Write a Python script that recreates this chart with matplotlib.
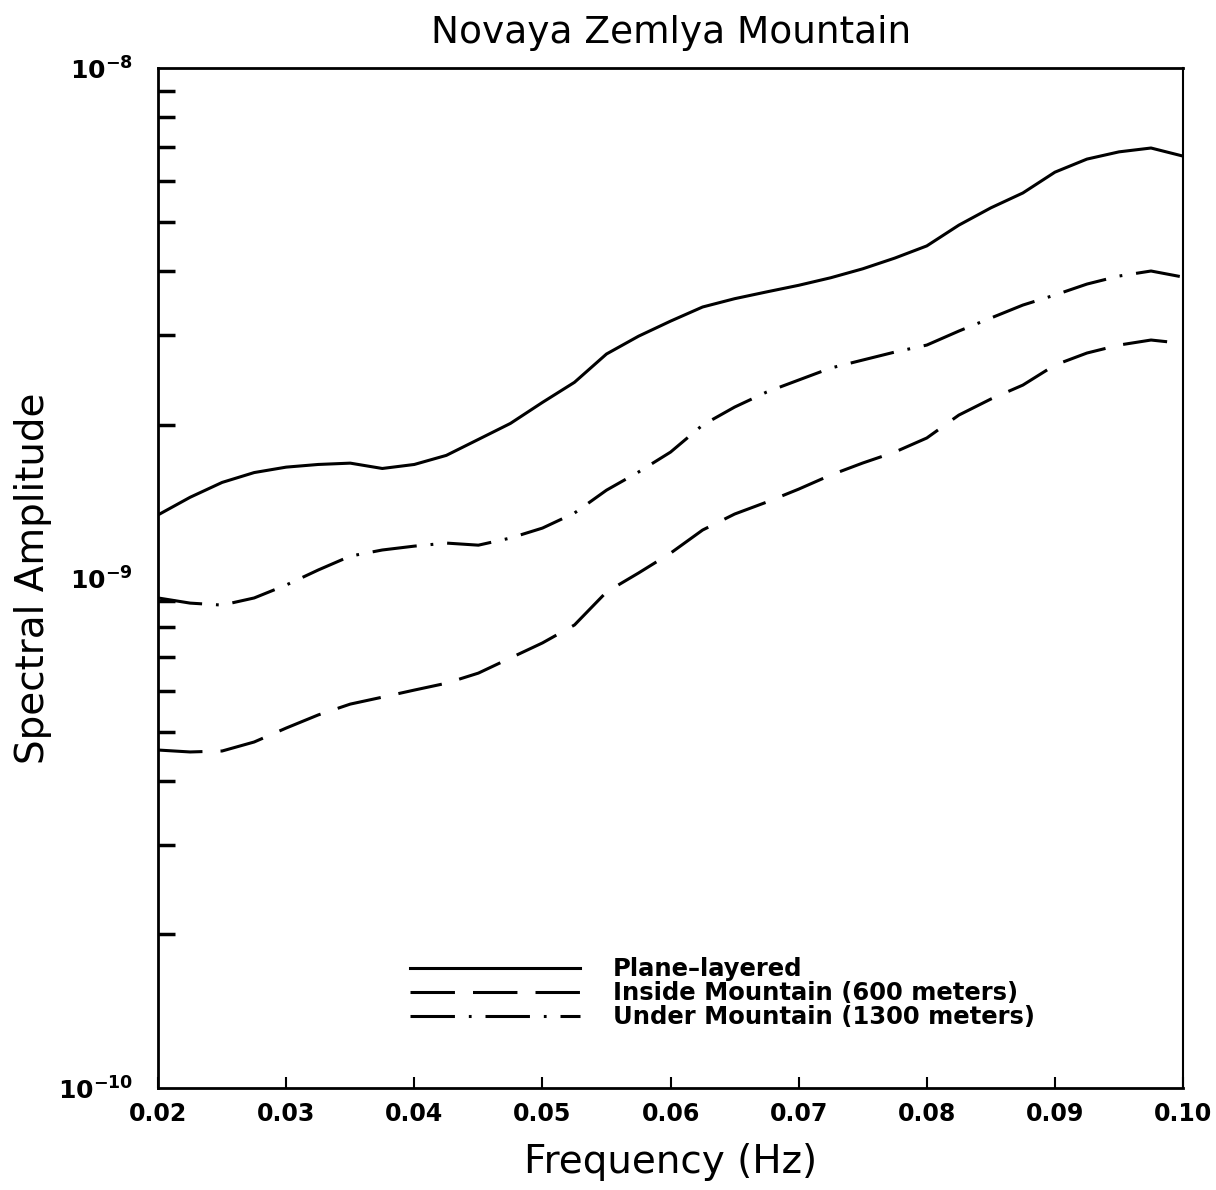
import numpy as np
import matplotlib
matplotlib.use('Agg')
import matplotlib.pyplot as plt
from matplotlib.ticker import LogLocator, NullFormatter

# frequency samples (Hz)
freq = [0.02, 0.0225, 0.025, 0.0275, 0.03, 0.0325, 0.035, 0.0375, 0.04, 0.0425,
        0.045, 0.0475, 0.05, 0.0525, 0.055, 0.0575, 0.06, 0.0625, 0.065, 0.0675,
        0.07, 0.0725, 0.075, 0.0775, 0.08, 0.0825, 0.085, 0.0875, 0.09, 0.0925,
        0.095, 0.0975, 0.10]

# amplitudes in units of 1e-9
plane = [1.33, 1.44, 1.54, 1.61, 1.65, 1.67, 1.68, 1.64, 1.67, 1.74,
         1.87, 2.01, 2.21, 2.42, 2.75, 2.98, 3.19, 3.40, 3.53, 3.64,
         3.75, 3.88, 4.04, 4.24, 4.48, 4.92, 5.32, 5.69, 6.25, 6.63,
         6.85, 6.97, 6.72]

under = [0.914, 0.893, 0.885, 0.914, 0.969, 1.037, 1.104, 1.135, 1.155, 1.171,
         1.160, 1.198, 1.253, 1.341, 1.487, 1.614, 1.766, 1.995, 2.164, 2.316,
         2.445, 2.581, 2.676, 2.774, 2.863, 3.050, 3.235, 3.430, 3.589, 3.771,
         3.910, 4.00, 3.892]

freq_in = freq[:-1] + [0.099]
inside = [0.460, 0.456, 0.458, 0.477, 0.508, 0.539, 0.566, 0.584, 0.603, 0.622,
          0.651, 0.697, 0.746, 0.809, 0.939, 1.023, 1.119, 1.242, 1.335, 1.409,
          1.494, 1.592, 1.681, 1.766, 1.882, 2.087, 2.244, 2.390, 2.616, 2.762,
          2.863, 2.929, 2.902]

xticklabs = ['0.02', '0.03', '0.04', '0.05', '0.06', '0.07', '0.08', '0.09', '0.10']

plt.rcParams['lines.scale_dashes'] = False

fig = plt.figure(figsize=(12.16, 11.9), dpi=100)
ax = fig.add_axes([0.13, 0.0857, 0.8429, 0.8571])

lw = 2.2
ax.plot(freq, np.array(plane) * 1e-9, color='black', lw=lw, label='Plane\u2013layered')
l2, = ax.plot(freq_in, np.array(inside) * 1e-9, color='black', lw=lw,
              label='Inside Mountain (600 meters)')
l2.set_dashes((32, 13))
l3, = ax.plot(freq, np.array(under) * 1e-9, color='black', lw=lw,
              label='Under Mountain (1300 meters)')
l3.set_dashes((32, 10, 2, 10))

ax.set_yscale('log')
ax.set_xlim(0.02, 0.10)
ax.set_ylim(1e-10, 1e-8)

ax.set_xticks([float(s) for s in xticklabs])
ax.set_xticklabels(xticklabs, fontsize=17, fontweight='bold')
ax.set_yticks([1e-10, 1e-9, 1e-8])
ax.set_yticklabels([r'$\mathbf{10^{-10}}$', r'$\mathbf{10^{-9}}$', r'$\mathbf{10^{-8}}$'],
                   fontsize=18)
ax.yaxis.set_minor_locator(LogLocator(base=10, subs=np.arange(2, 10)))
ax.yaxis.set_minor_formatter(NullFormatter())

ax.tick_params(axis='x', direction='in', length=8, width=1.5, top=False, pad=10)
ax.tick_params(axis='y', which='major', direction='in', length=0, right=False, pad=18)
ax.tick_params(axis='y', which='minor', direction='in', length=12, width=2.5, right=False)
for s in ax.spines.values():
    s.set_linewidth(2)
ax.spines['right'].set_linewidth(1.5)

ax.set_title('Novaya Zemlya Mountain', fontsize=27, pad=18)
ax.set_xlabel('Frequency (Hz)', fontsize=28, labelpad=12)
ax.set_ylabel('Spectral Amplitude', fontsize=28, labelpad=4)

leg = ax.legend(loc='upper left', bbox_to_anchor=(0.246, 0.128), frameon=False,
                fontsize=17.5, handlelength=7.0, handletextpad=1.35,
                labelspacing=0.0, borderpad=0, borderaxespad=0)
for t in leg.get_texts():
    t.set_fontweight('bold')

fig.savefig('out.png', dpi=100, facecolor='white')
